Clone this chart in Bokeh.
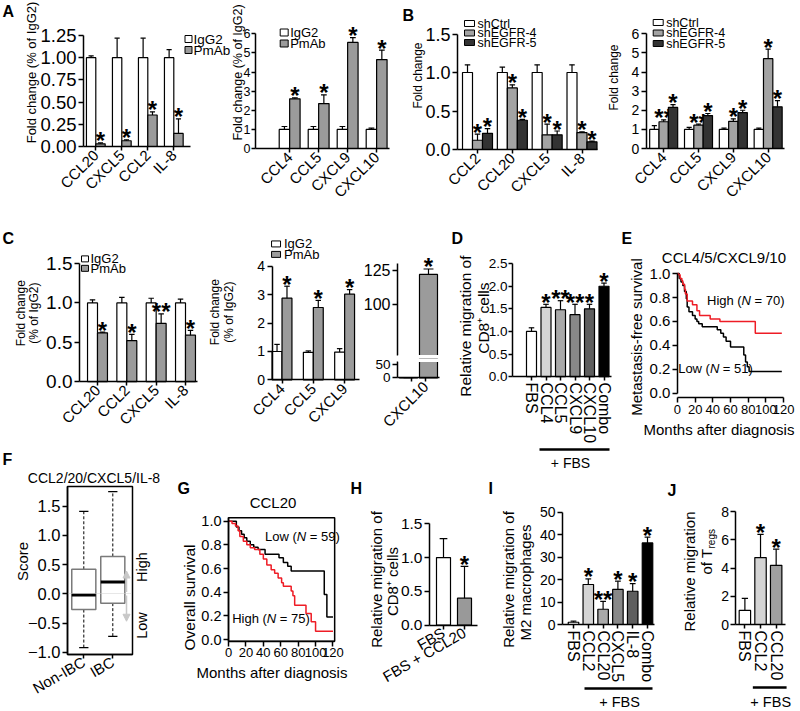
import math
from bokeh.plotting import figure
from bokeh.models import (Range1d, FixedTicker, Label, Arrow, NormalHead, ColumnDataSource,
                          BoxAnnotation)
from bokeh.layouts import row, column
from bokeh.embed import file_html
from bokeh.resources import INLINE
from bokeh.core.properties import value

S = 0.998
FONT = "Liberation Sans"
RED = "#ee1c25"
PM_GRAY = "#9b9b9b"
SH4 = "#a3a3a3"
SH5 = "#333333"

# ---------------- data ----------------
A1_cats = ["CCL20", "CXCL5", "CCL2", "IL-8"]
A1_igg2 = [1.0, 1.0, 1.0, 1.0]
A1_igg2_err = [1.02, 1.22, 1.22, 1.09]
A1_pmab = [0.03, 0.065, 0.355, 0.147]
A1_pmab_err = [0.04, 0.075, 0.39, 0.31]
A1_sig = ["*", "*", "*", "*"]
A1_yticks = [0, 0.25, 0.5, 0.75, 1.0, 1.25]
A1_ylabels = ["0.00", "0.25", "0.50", "0.75", "1.00", "1.25"]

A2_cats = ["CCL4", "CCL5", "CXCL9", "CXCL10"]
A2_igg2 = [1.0, 1.0, 1.0, 1.0]
A2_igg2_err = [1.15, 1.15, 1.15, 1.07]
A2_pmab = [2.6, 2.35, 5.55, 4.65]
A2_pmab_err = [2.65, 2.8, 5.8, 5.15]
A2_sig = ["*", "*", "*", "*"]
A2_yticks = [0, 1, 2, 3, 4, 5, 6]
A2_ylabels = ["0", "1", "2", "3", "4", "5", "6"]

B1_cats = ["CCL2", "CCL20", "CXCL5", "IL-8"]
B1_ctrl = [1.0, 1.0, 1.0, 1.0]
B1_ctrl_err = [1.1, 1.07, 1.1, 1.1]
B1_sh4 = [0.12, 0.80, 0.19, 0.22]
B1_sh4_err = [0.20, 0.84, 0.33, 0.23]
B1_sh4_sig = ["*", "*", "*", "*"]
B1_sh5 = [0.21, 0.38, 0.19, 0.10]
B1_sh5_err = [0.27, 0.39, 0.24, 0.11]
B1_sh5_sig = ["*", "*", "*", "*"]
B1_yticks = [0, 0.5, 1.0, 1.5]
B1_ylabels = ["0.0", "0.5", "1.0", "1.5"]

B2_cats = ["CCL4", "CCL5", "CXCL9", "CXCL10"]
B2_ctrl = [1.0, 1.0, 1.0, 1.0]
B2_ctrl_err = [1.2, 1.1, 1.07, 1.07]
B2_sh4 = [1.40, 1.22, 1.42, 4.70]
B2_sh4_err = [1.50, 1.27, 1.55, 5.20]
B2_sh4_sig = ["**", "**", "*", "*"]
B2_sh5 = [2.15, 1.72, 1.88, 2.18]
B2_sh5_err = [2.30, 1.83, 2.00, 2.50]
B2_sh5_sig = ["*", "*", "*", "*"]
B2_yticks = [0, 1, 2, 3, 4, 5, 6]
B2_ylabels = ["0", "1", "2", "3", "4", "5", "6"]

C1_cats = ["CCL20", "CCL2", "CXCL5", "IL-8"]
C1_igg2 = [1.0, 1.0, 1.0, 1.0]
C1_igg2_err = [1.04, 1.07, 1.06, 1.05]
C1_pmab = [0.62, 0.52, 0.74, 0.59]
C1_pmab_err = [0.63, 0.60, 0.86, 0.65]
C1_sig = ["*", "*", "**", "*"]
C1_yticks = [0, 0.5, 1.0, 1.5]
C1_ylabels = ["0.0", "0.5", "1.0", "1.5"]

C2_cats = ["CCL4", "CCL5", "CXCL9"]
C2_igg2 = [1.0, 0.97, 0.98]
C2_igg2_err = [1.25, 1.02, 1.10]
C2_pmab = [2.88, 2.55, 3.02]
C2_pmab_err = [3.30, 2.80, 3.18]
C2_sig = ["*", "*", "*"]
C2_yticks = [0, 1, 2, 3, 4]
C2_ylabels = ["0", "1", "2", "3", "4"]

C3_cats = ["", "CXCL10"]
C3_igg2 = [1.0]
C3_igg2_err = [1.0]
C3_pmab = [122.0]
C3_pmab_err = [126.0]
C3_sig = ["*"]
C3_upper_ticks = [100, 125]
C3_upper_labels = ["100", "125"]
C3_lower_ticks = [0, 50]
C3_lower_labels = ["0", "50"]

D_cats = ["FBS", "CCL4", "CCL5", "CXCL9", "CXCL10", "Combo"]
D_vals = [1.0, 1.53, 1.48, 1.37, 1.50, 2.00]
D_err = [1.08, 1.60, 1.68, 1.60, 1.60, 2.07]
D_sig = ["", "*", "**", "**", "*", "*"]
D_colors = ["white", "#d4d4d4", "#a9a9a9", "#888888", "#5e5e5e", "black"]
D_yticks = [0, 0.5, 1.0, 1.5, 2.0, 2.5]
D_ylabels = ["0.0", "0.5", "1.0", "1.5", "2.0", "2.5"]

E_high_t = [0, 1, 3, 5, 6, 8, 9, 11, 17, 22, 25, 37, 48, 88, 118]
E_high_s = [1.0, 0.99, 0.96, 0.94, 0.91, 0.87, 0.83, 0.77, 0.74, 0.69, 0.65, 0.62, 0.60, 0.50, 0.50]
E_low_t = [0, 2, 4, 6, 8, 10, 11, 13, 17, 20, 22, 24, 28, 45, 49, 52, 55, 60, 75, 77, 79, 81, 118]
E_low_s = [1.0, 0.96, 0.93, 0.90, 0.85, 0.79, 0.72, 0.68, 0.65, 0.62, 0.60, 0.58, 0.555, 0.53,
           0.50, 0.47, 0.435, 0.385, 0.32, 0.26, 0.22, 0.18, 0.18]
KM_xticks = [0, 20, 40, 60, 80, 100, 120]
KM_xlabels = ["0", "20", "40", "60", "80", "100", "120"]
KM_yticks = [0, 0.2, 0.4, 0.6, 0.8, 1.0]
KM_ylabels = ["0.0", "0.2", "0.4", "0.6", "0.8", "1.0"]

F_groups = ["Non-IBC", "IBC"]
F_lo = [-0.92, -0.73]
F_q1 = [-0.27, -0.16]
F_med = [-0.02, 0.20]
F_q3 = [0.42, 0.64]
F_hi = [1.41, 1.75]
F_yticks = [-1.0, -0.5, 0, 0.5, 1.0, 1.5]
F_ylabels = ["\u22121.0", "\u22120.5", "0.0", "0.5", "1.0", "1.5"]

G_low_t = [0, 9, 12, 15, 18, 21, 25, 29, 34, 42, 58, 63, 68, 72, 110, 113, 120]
G_low_s = [1.0, 0.95, 0.92, 0.89, 0.86, 0.83, 0.80, 0.78, 0.76, 0.72, 0.69, 0.65, 0.62, 0.58,
           0.38, 0.19, 0.19]
G_high_t = [0, 4, 8, 11, 13, 17, 21, 25, 30, 36, 40, 44, 49, 53, 57, 61, 63, 72, 74, 76, 89, 95,
            100, 120]
G_high_s = [1.0, 0.98, 0.96, 0.92, 0.87, 0.83, 0.80, 0.775, 0.76, 0.72, 0.68, 0.63, 0.59, 0.56,
            0.52, 0.48, 0.45, 0.41, 0.37, 0.29, 0.22, 0.15, 0.07, 0.07]

H_cats = ["FBS", "FBS + CCL20"]
H_vals = [1.0, 0.40]
H_err = [1.28, 0.87]
H_sig = ["", "*"]
H_colors = ["white", "#999999"]
H_yticks = [0, 0.5, 1.0, 1.5]
H_ylabels = ["0.0", "0.5", "1.0", "1.5"]

I_cats = ["FBS", "CCL2", "CCL20", "CXCL5", "IL-8", "Combo"]
I_vals = [1.0, 17.8, 6.8, 15.6, 14.8, 36.3]
I_err = [1.5, 20.3, 10.3, 19.3, 18.2, 38.9]
I_sig = ["", "*", "**", "*", "*", "*"]
I_colors = ["white", "#d4d4d4", "#a9a9a9", "#888888", "#5e5e5e", "black"]
I_yticks = [0, 10, 20, 30, 40, 50]
I_ylabels = ["0", "10", "20", "30", "40", "50"]

J_cats = ["FBS", "CCL2", "CCL20"]
J_vals = [1.0, 4.75, 4.2]
J_err = [1.85, 6.4, 5.35]
J_sig = ["", "*", "*"]
J_colors = ["white", "#d4d4d4", "#a0a0a0"]
J_yticks = [0, 2, 4, 6, 8]
J_ylabels = ["0", "2", "4", "6", "8"]


# ---------------- helpers ----------------
def px(v):
    return int(round(v * S))


def fz(v):
    return "%.1fpx" % (v * S)


class Panel:
    """A figure whose frame fills its whole tile; axes sit at fixed data locations."""

    def __init__(self, tile, origin, xcal, ycal, x_axis=True):
        self.xcal = xcal
        self.ycal = ycal
        tx0, ty0, tx1, ty1 = tile
        p = figure(width=px(tx1) - px(tx0), height=px(ty1) - px(ty0),
                   x_range=Range1d(self.dx(tx0), self.dx(tx1)),
                   y_range=Range1d(self.dy(ty1), self.dy(ty0)),
                   min_border_left=0, min_border_right=0, min_border_top=0, min_border_bottom=0,
                   toolbar_location=None, output_backend="svg", title=None,
                   x_axis_location="below" if x_axis else None)
        p.grid.visible = False
        p.outline_line_color = None
        p.background_fill_color = "white"
        p.border_fill_color = "white"
        p.yaxis[0].fixed_location = self.dx(origin[0])
        if x_axis:
            p.xaxis[0].fixed_location = self.dy(origin[1])
        self.p = p

    def dx(self, v):
        a, va, b, vb = self.xcal
        return va + (v - a) * (vb - va) / (b - a)

    def dy(self, v):
        a, va, b, vb = self.ycal
        return va + (v - a) * (vb - va) / (b - a)


def axis_common(ax, font):
    ax.axis_line_width = 1.5
    ax.axis_line_color = "black"
    ax.major_tick_line_width = 1.5
    ax.major_tick_out = 5
    ax.major_tick_in = 0
    ax.minor_tick_line_color = None
    ax.major_label_text_font = FONT
    ax.major_label_text_font_size = fz(font)
    ax.major_label_text_color = "black"
    ax.major_label_standoff = 2


def yaxis(P, ticks, labels, bounds=None, font=15, tick_out=5, standoff=2):
    ax = P.p.yaxis[0]
    axis_common(ax, font)
    ax.ticker = FixedTicker(ticks=ticks)
    ax.major_label_overrides = dict(zip(ticks, labels))
    ax.major_tick_out = tick_out
    ax.major_label_standoff = standoff
    if bounds is not None:
        ax.bounds = bounds


def xaxis(P, ticks, labels, bounds=None, orient=math.pi / 4, font=15, tick_out=4):
    ax = P.p.xaxis[0]
    axis_common(ax, font)
    ax.ticker = FixedTicker(ticks=ticks)
    ax.major_label_overrides = dict(zip(ticks, labels))
    ax.major_tick_out = tick_out
    if bounds is not None:
        ax.bounds = bounds
    ax.major_label_orientation = orient


def frame_box(P, x0, y0, x1, y1):
    P.p.add_layout(BoxAnnotation(left=P.dx(x0), right=P.dx(x1), top=P.dy(y0), bottom=P.dy(y1),
                                 fill_alpha=0, line_color="black", line_width=1.5, line_alpha=1))


def bars(P, vals, errs, offset, width, colors, sig=None, cap=0.55, star=24, star_dy=-2):
    n = len(vals)
    xs = [i + offset for i in range(n)]
    if isinstance(colors, str):
        colors = [colors] * n
    src = ColumnDataSource(dict(
        x=xs, top=vals, err=errs,
        xl=[x - width * cap / 2 for x in xs], xr=[x + width * cap / 2 for x in xs],
        c=colors, s=sig if sig else [""] * n))
    P.p.vbar(x="x", top="top", bottom=0, width=width, fill_color="c", line_color="black",
             line_width=1.2, source=src)
    P.p.segment(x0="x", y0="top", x1="x", y1="err", line_color="black", line_width=1.2, source=src)
    P.p.segment(x0="xl", y0="err", x1="xr", y1="err", line_color="black", line_width=1.2, source=src)
    if sig:
        P.p.text(x="x", y="err", text="s", text_align="center", text_baseline="alphabetic",
                 text_font=value(FONT), text_font_size=value(fz(star)), text_font_style="bold",
                 text_color="black", y_offset=star_dy, source=src)


def lab(P, x, y, text, size=15, align="left", baseline="top", angle=0.0, style="normal", xoff=0):
    P.p.add_layout(Label(x=P.dx(x), y=P.dy(y), text=text, text_align=align, text_baseline=baseline,
                         angle=angle, text_font=FONT, text_font_size=fz(size), text_font_style=style,
                         text_color="black", x_offset=xoff))


def ytitle(P, x, y, text, size=15):
    lab(P, x, y, text, size, align="center", baseline="middle", angle=math.pi / 2)


def key(P, x, y, w, h, color):
    P.p.rect(x=[P.dx(x)], y=[P.dy(y)], width=w * S, height=h * S, width_units="screen",
             height_units="screen", fill_color=color, line_color="black", line_width=1)


def underline(P, x0, x1, y):
    P.p.add_layout(Arrow(end=None, x_start=P.dx(x0), y_start=P.dy(y), x_end=P.dx(x1), y_end=P.dy(y),
                         line_color="black", line_width=2.5))


AW = {' ': .278, '(': .333, ')': .333, '=': .584, 'H': .722, 'i': .222, 'g': .556, 'h': .556,
      'L': .556, 'o': .556, 'w': .722, 'N': .722}


def tw(s, size):
    return sum(AW.get(c, .556) for c in s) * size * S


def nlabel(P, x, y, pre, post, size=13):
    lab(P, x, y, pre, size, baseline="middle")
    lab(P, x, y, "N", size, baseline="middle", style="italic", xoff=tw(pre, size))
    lab(P, x, y, post, size, baseline="middle", xoff=tw(pre + "N ", size))


XLAB = 15     # rotated category labels in panels A-C
R2 = 228      # row boundaries
R3 = 471
AA = 231      # boundary between the two A panels
GH = 366      # boundary between panels G and H

# ---------------- row 1 ----------------
A1 = Panel((0, 0, AA, R2), (83, 146), (95.3, 0, 173.3, 3), (146, 0, 35, 1.25))
yaxis(A1, A1_yticks, A1_ylabels, (0, 1.25), font=18.5)
xaxis(A1, [0, 1, 2, 3], A1_cats, (A1.dx(83), A1.dx(190)), font=XLAB)
bars(A1, A1_igg2, A1_igg2_err, -0.18, 0.36, "white")
bars(A1, A1_pmab, A1_pmab_err, 0.18, 0.36, PM_GRAY, A1_sig)
key(A1, 188, 38.5, 7, 7, "white")
key(A1, 188, 49.5, 7, 7, PM_GRAY)
lab(A1, 193, 38.5, "IgG2", 13.5, baseline="middle")
lab(A1, 193, 49.5, "PmAb", 13.5, baseline="middle")
ytitle(A1, 31, 72, "Fold change (% of IgG2)", 13)
lab(A1, 2, 2, "A", 16, style="bold")

A2 = Panel((AA, 0, 398, R2), (255, 148), (289.5, 0, 377, 3), (148, 0, 33.3, 6))
yaxis(A2, A2_yticks, A2_ylabels, (0, 6), font=12.5, tick_out=4, standoff=1)
xaxis(A2, [0, 1, 2, 3], A2_cats, (A2.dx(255), A2.dx(390)), font=XLAB)
bars(A2, A2_igg2, A2_igg2_err, -0.18, 0.36, "white")
bars(A2, A2_pmab, A2_pmab_err, 0.18, 0.36, PM_GRAY, A2_sig)
key(A2, 284, 32, 8, 7, "white")
key(A2, 284, 43, 8, 7, PM_GRAY)
lab(A2, 290, 32, "IgG2", 13, baseline="middle")
lab(A2, 290, 43, "PmAb", 13, baseline="middle")
ytitle(A2, 238, 72, "Fold change (% of IgG2)", 12.5)

B1 = Panel((398, 0, 600, R2), (458, 149), (478, 0, 582.5, 3), (149, 0, 33.5, 1.5))
yaxis(B1, B1_yticks, B1_ylabels, (0, 1.5), font=18)
xaxis(B1, [0, 1, 2, 3], B1_cats, (B1.dx(458), B1.dx(598)), font=XLAB)
bars(B1, B1_ctrl, B1_ctrl_err, -0.287, 0.287, "white")
bars(B1, B1_sh4, B1_sh4_err, 0.0, 0.287, SH4, B1_sh4_sig)
bars(B1, B1_sh5, B1_sh5_err, 0.287, 0.287, SH5, B1_sh5_sig)
key(B1, 470, 23, 10, 6, "white")
key(B1, 470, 32.5, 10, 6, SH4)
key(B1, 470, 42, 10, 6, SH5)
lab(B1, 478, 23, "shCtrl", 12.5, baseline="middle")
lab(B1, 478, 32.5, "shEGFR-4", 12.5, baseline="middle")
lab(B1, 478, 42, "shEGFR-5", 12.5, baseline="middle")
ytitle(B1, 418, 75, "Fold change", 12)
lab(B1, 403, 6, "B", 16, style="bold")

B2 = Panel((600, 0, 800, R2), (647, 148), (664.5, 0, 769.5, 3), (148, 0, 33.3, 6))
yaxis(B2, B2_yticks, B2_ylabels, (0, 6), font=14)
xaxis(B2, [0, 1, 2, 3], B2_cats, (B2.dx(647), B2.dx(786)), font=XLAB)
bars(B2, B2_ctrl, B2_ctrl_err, -0.268, 0.268, "white")
bars(B2, B2_sh4, B2_sh4_err, 0.0, 0.268, SH4, B2_sh4_sig)
bars(B2, B2_sh5, B2_sh5_err, 0.268, 0.268, SH5, B2_sh5_sig)
key(B2, 659, 22, 10, 6, "white")
key(B2, 659, 32.5, 10, 6, SH4)
key(B2, 659, 43, 10, 6, SH5)
lab(B2, 667, 22, "shCtrl", 12.5, baseline="middle")
lab(B2, 667, 32.5, "shEGFR-4", 12.5, baseline="middle")
lab(B2, 667, 43, "shEGFR-5", 12.5, baseline="middle")
ytitle(B2, 615, 77, "Fold change", 12)

# ---------------- row 2 ----------------
C1 = Panel((0, R2, 202, R3), (79, 381.7), (97, 0, 185, 3), (381.7, 0, 263.3, 1.5))
yaxis(C1, C1_yticks, C1_ylabels, (0, 1.5), font=19)
xaxis(C1, [0, 1, 2, 3], C1_cats, (C1.dx(79), C1.dx(197)), font=XLAB)
bars(C1, C1_igg2, C1_igg2_err, -0.17, 0.34, "white")
bars(C1, C1_pmab, C1_pmab_err, 0.17, 0.34, PM_GRAY, C1_sig)
key(C1, 84.5, 258.5, 7, 6, "white")
key(C1, 84.5, 268, 7, 6, PM_GRAY)
lab(C1, 90, 258.5, "IgG2", 13, baseline="middle")
lab(C1, 90, 268, "PmAb", 13, baseline="middle")
ytitle(C1, 20, 313, "Fold change", 12)
ytitle(C1, 33.5, 313, "(% of IgG2)", 12)
lab(C1, 2, 230, "C", 16, style="bold")
lab(C1, 2, 451, "F", 16, style="bold")

C2 = Panel((202, R2, 364, R3), (272, 380), (282, 0, 345, 2), (380, 0, 266, 4))
yaxis(C2, C2_yticks, C2_ylabels, (0, 4), font=14)
xaxis(C2, [0, 1, 2], C2_cats, (C2.dx(272), C2.dx(360)), font=XLAB)
bars(C2, C2_igg2, C2_igg2_err, -0.159, 0.317, "white")
bars(C2, C2_pmab, C2_pmab_err, 0.159, 0.317, PM_GRAY, C2_sig)
key(C2, 276, 243.5, 9, 6, "white")
key(C2, 276, 254, 9, 6, PM_GRAY)
lab(C2, 284, 243.5, "IgG2", 13, baseline="middle")
lab(C2, 284, 254, "PmAb", 13, baseline="middle")
ytitle(C2, 215, 312, "Fold change", 12)
ytitle(C2, 228.5, 312, "(% of IgG2)", 12)

# broken axis for CXCL10: upper and lower parts
CUT = 358.5
C3u = Panel((364, R2, 442, CUT), (398, 355), (412, 0, 426, 1), (304, 100, 270, 125), x_axis=False)
yaxis(C3u, C3_upper_ticks, C3_upper_labels, (C3u.dy(355), C3u.dy(263)), font=16)
bars(C3u, C3_igg2, C3_igg2_err, -0.214, 1.286, "white")
bars(C3u, C3_pmab, C3_pmab_err, 1.214, 1.286, PM_GRAY, C3_sig)
C3u.p.add_layout(BoxAnnotation(bottom=C3u.dy(362), top=C3u.dy(355), left=C3u.dx(399),
                               fill_color="white", fill_alpha=1, line_alpha=0))

C3l = Panel((364, CUT, 442, R3), (398, 378), (412, 0, 426, 1), (378, 0, 365, 50))
yaxis(C3l, C3_lower_ticks, C3_lower_labels, (0, C3l.dy(362)), font=13.5)
xaxis(C3l, [0, 1], C3_cats, (C3l.dx(398), C3l.dx(440)), font=XLAB)
bars(C3l, C3_igg2, C3_igg2_err, -0.214, 1.286, "white")
bars(C3l, C3_pmab, C3_pmab_err, 1.214, 1.286, PM_GRAY)
C3l.p.add_layout(BoxAnnotation(bottom=C3l.dy(362), top=C3l.dy(355), left=C3l.dx(399),
                               fill_color="white", fill_alpha=1, line_alpha=0))

D = Panel((442, R2, 618, R3), (513, 376.7), (532, 0, 604.5, 5), (376.7, 0, 263.3, 2.5))
yaxis(D, D_yticks, D_ylabels, (0, 2.5), font=13.5, tick_out=4, standoff=1)
xaxis(D, list(range(6)), D_cats, (D.dx(513), D.dx(612)), orient="vertical", font=16)
bars(D, D_vals, D_err, 0.0, 0.69, D_colors, D_sig)
ytitle(D, 466, 326, "Relative migration of", 15.5)
ytitle(D, 484, 318, "CD8\u207a cells", 15.5)
underline(D, 540, 610, 450)
lab(D, 571, 463.5, "+ FBS", 14, align="center", baseline="middle")
lab(D, 452, 230, "D", 16, style="bold")

E = Panel((618, R2, 800, R3), (678.3, 398), (678.3, 0, 785, 120), (393.3, 0, 273.3, 1.0))
yaxis(E, KM_yticks, KM_ylabels, (0, 1), font=15)
xaxis(E, KM_xticks, KM_xlabels, (0, 120), orient="horizontal", font=13, tick_out=5)
E.p.step(E_low_t, E_low_s, mode="after", line_color="black", line_width=1.5)
E.p.step(E_high_t, E_high_s, mode="after", line_color=RED, line_width=1.5)
lab(E, 725, 257, "CCL4/5/CXCL9/10", 15, align="center", baseline="middle")
nlabel(E, 708, 300, "High (", "= 70)")
nlabel(E, 679, 369, "Low (", "= 51)")
lab(E, 720, 430, "Months after diagnosis", 15, align="center", baseline="middle")
ytitle(E, 637, 337, "Metastasis-free survival", 15)
lab(E, 622, 230, "E", 16, style="bold")

# ---------------- row 3 ----------------
F = Panel((0, R3, 174, 711), (67, 655), (83.3, 0, 112.3, 1), (652.7, -1.0, 506.7, 1.5))
yaxis(F, F_yticks, F_ylabels, (F.dy(655), F.dy(487)), font=16.5)
xaxis(F, [0, 1], F_groups, (F.dx(67), F.dx(132)), orient=math.pi / 6, font=15)
frame_box(F, 67, 487, 132, 655)
fx = [0, 1]
bw = 0.83
cw = 0.32
F.p.segment(x0=fx, y0=F_q3, x1=fx, y1=F_hi, line_color="black", line_width=1, line_dash="3 2")
F.p.segment(x0=fx, y0=F_q1, x1=fx, y1=F_lo, line_color="black", line_width=1, line_dash="3 2")
F.p.segment(x0=[x - cw / 2 for x in fx], y0=F_hi, x1=[x + cw / 2 for x in fx], y1=F_hi,
            line_color="black", line_width=1.3)
F.p.segment(x0=[x - cw / 2 for x in fx], y0=F_lo, x1=[x + cw / 2 for x in fx], y1=F_lo,
            line_color="black", line_width=1.3)
F.p.vbar(x=fx, bottom=F_q1, top=F_q3, width=bw, fill_color="white", line_color="#7a7a7a",
         line_width=1.5)
F.p.segment(x0=[x - bw / 2 for x in fx], y0=F_med, x1=[x + bw / 2 for x in fx], y1=F_med,
            line_color="black", line_width=3)
F.p.add_layout(BoxAnnotation(bottom=-0.004, top=0.004, left=F.dx(68), right=F.dx(131),
                             fill_color="#cfcfcf", fill_alpha=1, line_alpha=0))
arrow_x = F.dx(126)
F.p.add_layout(Arrow(end=NormalHead(size=7, fill_color="#c8c8c8", line_color="#c8c8c8"),
                     x_start=arrow_x, y_start=0.03, x_end=arrow_x, y_end=0.39,
                     line_color="#c8c8c8", line_width=1.5))
F.p.add_layout(Arrow(end=NormalHead(size=7, fill_color="#c8c8c8", line_color="#c8c8c8"),
                     x_start=arrow_x, y_start=-0.03, x_end=arrow_x, y_end=-0.47,
                     line_color="#c8c8c8", line_width=1.5))
lab(F, 141, 567.5, "High", 14.5, align="center", baseline="middle", angle=math.pi / 2)
lab(F, 141, 626, "Low", 14.5, align="center", baseline="middle", angle=math.pi / 2)
lab(F, 93.5, 478, "CCL2/20/CXCL5/IL-8", 14, align="center", baseline="middle")
ytitle(F, 22, 562, "Score", 15)

G = Panel((174, R3, GH, 711), (228.3, 641.7), (228.3, 0, 333.3, 120), (640, 0, 521.7, 1.0))
yaxis(G, KM_yticks, KM_ylabels, (G.dy(641.7), G.dy(518.3)), font=14.5)
xaxis(G, KM_xticks, KM_xlabels, (G.dx(228.3), G.dx(335)), orient="horizontal", font=13, tick_out=5)
frame_box(G, 228.3, 518.3, 335, 641.7)
G.p.step(G_low_t, G_low_s, mode="after", line_color="black", line_width=1.5)
G.p.step(G_high_t, G_high_s, mode="after", line_color=RED, line_width=1.5)
lab(G, 273, 503, "CCL20", 15, align="center", baseline="middle")
nlabel(G, 265, 537, "Low (", "= 59)")
nlabel(G, 232, 619, "High (", "= 75)")
lab(G, 272, 673, "Months after diagnosis", 15, align="center", baseline="middle")
ytitle(G, 189, 598, "Overall survival", 15.5)
lab(G, 177, 480, "G", 16, style="bold")
lab(G, 351, 480, "H", 16, style="bold")

H = Panel((GH, R3, 485, 711), (430, 625.7), (444, 0, 465, 1), (625.7, 0, 524.3, 1.5))
yaxis(H, H_yticks, H_ylabels, (0, 1.5), font=15.5)
xaxis(H, [0, 1], H_cats, (H.dx(430), H.dx(478)), orient=math.pi / 6, font=15)
bars(H, H_vals, H_err, 0.0, 0.667, H_colors, H_sig)
ytitle(H, 376.5, 580, "Relative migration of", 15)
ytitle(H, 392.5, 582, "CD8\u207a cells", 15)

I = Panel((485, R3, 662, 711), (563, 625), (574, 0, 648, 5), (625, 0, 512.7, 50))
yaxis(I, I_yticks, I_ylabels, (0, 50), font=14)
xaxis(I, list(range(6)), I_cats, (I.dx(563), I.dx(655)), orient="vertical", font=16)
bars(I, I_vals, I_err, 0.0, 0.71, I_colors, I_sig)
ytitle(I, 509, 580, "Relative migration of", 15)
ytitle(I, 526, 583, "M2 macrophages", 15)
underline(I, 585, 653, 689)
lab(I, 620, 702, "+ FBS", 14.5, align="center", baseline="middle")
lab(I, 489, 480, "I", 16, style="bold")

J = Panel((662, R3, 800, 711), (737, 625), (746, 0, 777.5, 2), (625, 0, 512.3, 8))
yaxis(J, J_yticks, J_ylabels, (0, 8), font=14)
xaxis(J, [0, 1, 2], J_cats, (J.dx(737), J.dx(787)), orient="vertical", font=16)
bars(J, J_vals, J_err, 0.0, 0.73, J_colors, J_sig)
ytitle(J, 690, 572, "Relative migration", 15)
lab(J, 707, 575, "of T", 15, align="left", baseline="middle", angle=math.pi / 2)
lab(J, 712, 549, "regs", 10, align="left", baseline="middle", angle=math.pi / 2)
underline(J, 754, 788, 688)
lab(J, 772, 702, "+ FBS", 14.5, align="center", baseline="middle")
lab(J, 668, 482, "J", 16, style="bold")

layout = column(
    row(A1.p, A2.p, B1.p, B2.p),
    row(C1.p, C2.p, column(C3u.p, C3l.p), D.p, E.p),
    row(F.p, G.p, H.p, I.p, J.p),
)

open("out.html", "w").write(file_html(layout, INLINE))
